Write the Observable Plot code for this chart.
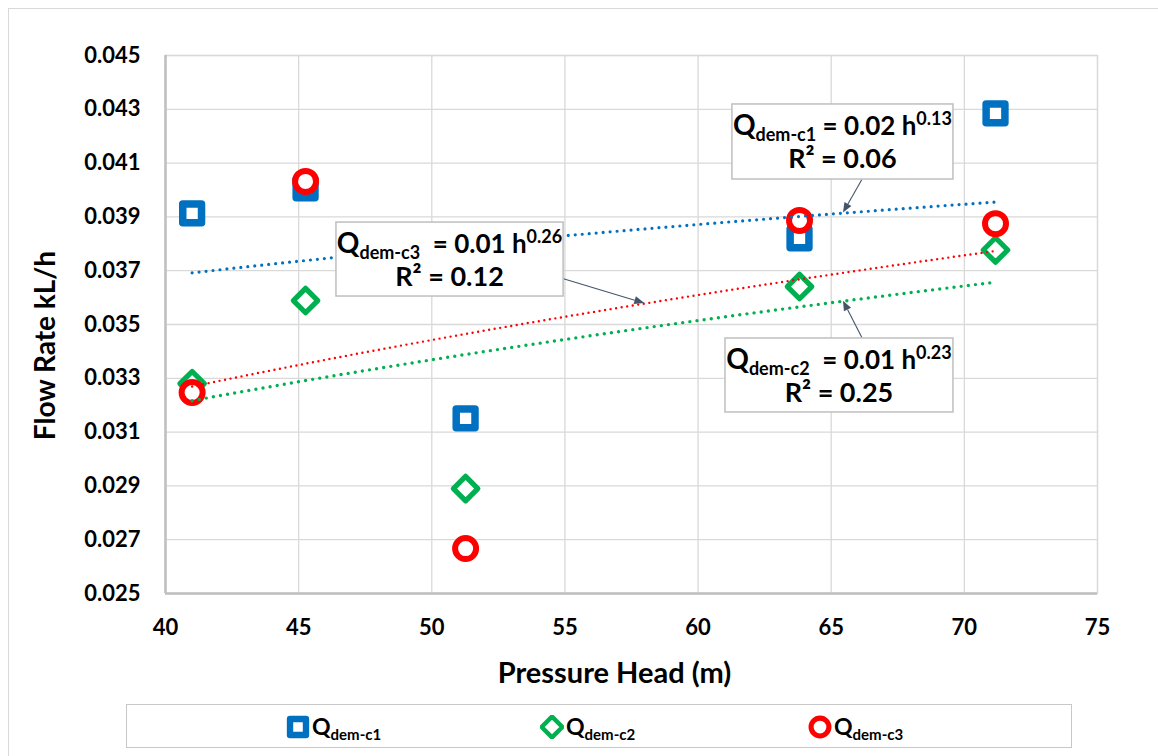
<!DOCTYPE html>
<html>
<head>
<meta charset="utf-8">
<script src="https://cdn.jsdelivr.net/npm/d3@7"></script>
<script src="https://cdn.jsdelivr.net/npm/@observablehq/plot@0.6"></script>
<style>
  html, body { margin: 0; padding: 0; background: #fff; }
  #wrap { position: relative; width: 1158px; height: 756px; overflow: hidden; font-family: Lato, "Open Sans", sans-serif; }
  #outer { position: absolute; left: 8px; top: 8px; width: 1200px; height: 800px; border: 1px solid #d9d9d9; box-sizing: border-box; }
  #chart { position: absolute; left: 0; top: 0; }
  #legend { position: absolute; left: 126px; top: 704px; width: 946px; height: 44px; border: 1.5px solid #c8c8c8; box-sizing: border-box; background: #fff; }
  .item { position: absolute; top: 0; height: 44px; display: flex; align-items: center; font-weight: bold; font-size: 23px; color: #000; }
  .item svg { margin-right: 2px; }
  .item sub { font-size: 15px; vertical-align: -5px; }
</style>
</head>
<body>
<div id="wrap">
  <div id="outer"></div>
  <div id="chart"></div>
  <div id="legend"></div>
</div>
<script>
// ---- data ----
const pressureHead = [41.0, 45.26, 51.27, 63.81, 71.17];
const qDemC1 = [0.03913, 0.04006, 0.03151, 0.03820, 0.04285];
const qDemC2 = [0.03280, 0.03589, 0.02890, 0.03641, 0.03777];
const qDemC3 = [0.03247, 0.04032, 0.02667, 0.03887, 0.03875];
const seriesNames = ["dem-c1", "dem-c2", "dem-c3"];
const seriesColors = ["#0070C0", "#00B050", "#FF0000"];
const xTicks = [40, 45, 50, 55, 60, 65, 70, 75];
const yTicks = [0.025, 0.027, 0.029, 0.031, 0.033, 0.035, 0.037, 0.039, 0.041, 0.043, 0.045];
const xTitle = "Pressure Head (m)";
const yTitle = "Flow Rate kL/h";
// trendline labels as printed on the chart
const eqCoef = ["0.02", "0.01", "0.01"];
const eqExp = ["0.13", "0.23", "0.26"];
const eqR2 = ["0.06", "0.25", "0.12"];

const seriesValues = [qDemC1, qDemC2, qDemC3];

// power-law (log-log least squares) trendlines, as in the spreadsheet
function powerFit(xs, ys) {
  const lx = xs.map(Math.log), ly = ys.map(Math.log);
  const mx = d3.mean(lx), my = d3.mean(ly);
  const b = d3.sum(lx, (v, i) => (v - mx) * (ly[i] - my)) / d3.sum(lx, v => (v - mx) ** 2);
  const a = Math.exp(my - b * mx);
  return {a, b, f: x => a * Math.pow(x, b)};
}
const fits = seriesValues.map(v => powerFit(pressureHead, v));
const x0 = d3.min(pressureHead), x1 = d3.max(pressureHead);
const trendRows = fits.flatMap((fit, s) => d3.range(0, 61).map(i => {
  const x = x0 + (x1 - x0) * i / 60;
  return {s, x, y: fit.f(x)};
}));

const pointRows = seriesValues.flatMap((vals, s) => vals.map((y, i) => ({s, x: pressureHead[i], y})));

const markerSpec = [
  {symbol: d3.symbolSquare, r: 10.6, sw: 7.5},
  {symbol: d3.symbolDiamond2, r: 11, sw: 5.2},
  {symbol: d3.symbolCircle, r: 10.5, sw: 6}
];
const dashSpec = [
  {w: 3.2, dash: "0 7"},
  {w: 3.4, dash: "0 7.2"},
  {w: 2.4, dash: "0 5.6"}
];

const marks = [
  Plot.gridX(xTicks, {stroke: "#d9d9d9", strokeOpacity: 1, strokeWidth: 1.3}),
  Plot.gridY(yTicks, {stroke: "#d9d9d9", strokeOpacity: 1, strokeWidth: 1.3}),
  Plot.frame({stroke: "#d9d9d9", strokeWidth: 1.3}),
  Plot.ruleX([40], {stroke: "#bfbfbf", strokeWidth: 2.5}),
  Plot.ruleY([0.025], {stroke: "#bfbfbf", strokeWidth: 2.5}),
  Plot.axisX(xTicks, {tickSize: 0, tickPadding: 26, fontSize: 22, fontWeight: "bold", label: null, fill: "#000"}),
  Plot.axisY(yTicks, {tickSize: 0, tickPadding: 25, tickFormat: d3.format(".3f"), fontSize: 22, fontWeight: "bold", label: null, fill: "#000"})
];
seriesValues.forEach((_, s) => {
  const m = markerSpec[s];
  marks.push(Plot.dot(pointRows.filter(d => d.s === s), {
    x: "x", y: "y", symbol: () => m.symbol, r: m.r, fill: "#fff",
    stroke: seriesColors[s], strokeWidth: m.sw, strokeLinejoin: "round"
  }));
});
seriesValues.forEach((_, s) => {
  marks.push(Plot.line(trendRows.filter(d => d.s === s), {
    x: "x", y: "y", stroke: seriesColors[s], strokeWidth: dashSpec[s].w,
    strokeDasharray: dashSpec[s].dash, strokeLinecap: "round"
  }));
});
marks.push(
  Plot.text([xTitle], {frameAnchor: "bottom", dx: -17, dy: 80, textAnchor: "middle", lineAnchor: "middle", fontSize: 29, fontWeight: "bold", fill: "#000"}),
  Plot.text([yTitle], {frameAnchor: "left", dx: -119, dy: 21, rotate: -90, textAnchor: "middle", lineAnchor: "middle", fontSize: 28, fontWeight: "bold", fill: "#000"})
);

const plot = Plot.plot({
  width: 1158, height: 700,
  marginLeft: 165, marginRight: 61, marginTop: 55, marginBottom: 107,
  style: {fontFamily: "Lato, 'Open Sans', sans-serif", color: "#000", background: "transparent", overflow: "visible"},
  x: {domain: [40, 75]},
  y: {domain: [0.025, 0.045]},
  symbol: {type: "identity"},
  marks
});
document.getElementById("chart").appendChild(plot);

// ---- annotation boxes (positions in data units) ----
const annotations = [
  {s: 0, box: [61.29, 69.59, 0.04318, 0.04039], from: [66.17, 0.04037], tipX: 65.46, gap: ""},
  {s: 2, box: [46.42, 54.95, 0.03879, 0.03604], from: [54.87, 0.03671], tipX: 58.0, gap: "\u00a0"},
  {s: 1, box: [61.03, 69.59, 0.03448, 0.03173], from: [66.17, 0.03450], tipX: 65.46, gap: "\u00a0"}
];
const sx = plot.scale("x").apply, sy = plot.scale("y").apply;
const layer = d3.select(plot).append("g").attr("font-family", "Lato, 'Open Sans', sans-serif").attr("font-weight", "bold");
annotations.forEach(a => {
  const L = sx(a.box[0]), R = sx(a.box[1]), T = sy(a.box[2]), B = sy(a.box[3]);
  const fx = sx(a.from[0]), fy = sy(a.from[1]);
  const tx = sx(a.tipX), ty = sy(fits[a.s].f(a.tipX));
  const ang = Math.atan2(ty - fy, tx - fx);
  const hl = 10, hw = 4;
  const bx = tx - hl * Math.cos(ang), by = ty - hl * Math.sin(ang);
  layer.append("line").attr("x1", fx).attr("y1", fy).attr("x2", bx).attr("y2", by)
    .attr("stroke", "#44546a").attr("stroke-width", 1.1);
  layer.append("path")
    .attr("d", `M${tx},${ty}L${bx + hw * Math.sin(ang)},${by - hw * Math.cos(ang)}L${bx - hw * Math.sin(ang)},${by + hw * Math.cos(ang)}Z`)
    .attr("fill", "#44546a");
  layer.append("rect").attr("x", L).attr("y", T).attr("width", R - L).attr("height", B - T)
    .attr("fill", "#fff").attr("stroke", "#bfbfbf").attr("stroke-width", 1.5);
  const cx = (L + R) / 2;
  const t1 = layer.append("text").attr("x", cx).attr("y", T + 31).attr("text-anchor", "middle")
    .attr("font-size", 26).attr("fill", "#000").style("white-space", "pre");
  t1.append("tspan").attr("font-size", 28).text("Q");
  t1.append("tspan").attr("font-size", 18).attr("dy", 6).text(seriesNames[a.s]);
  t1.append("tspan").attr("dy", -6).text(a.gap + " = " + eqCoef[a.s] + " h");
  t1.append("tspan").attr("font-size", 18).attr("dy", -10).text(eqExp[a.s]);
  layer.append("text").attr("x", cx).attr("y", T + 64).attr("text-anchor", "middle")
    .attr("font-size", 27).attr("fill", "#000").text("R\u00b2 = " + eqR2[a.s]);
});

// ---- legend below the chart ----
const legend = d3.select("#legend");
const legendLeft = [159, 413, 681];
seriesNames.forEach((name, s) => {
  const item = legend.append("div").attr("class", "item").style("left", legendLeft[s] + "px");
  const svg = item.append("svg").attr("width", 24).attr("height", 24);
  const m = markerSpec[s];
  const scale = 0.85;
  svg.append("path").attr("transform", "translate(12,12)")
    .attr("d", d3.symbol(m.symbol, Math.PI * (m.r * scale) ** 2)())
    .attr("fill", "#fff").attr("stroke", seriesColors[s]).attr("stroke-width", m.sw * 0.85).attr("stroke-linejoin", "round");
  item.append("span").html("Q<sub>" + name + "</sub>");
});
</script>
</body>
</html>
